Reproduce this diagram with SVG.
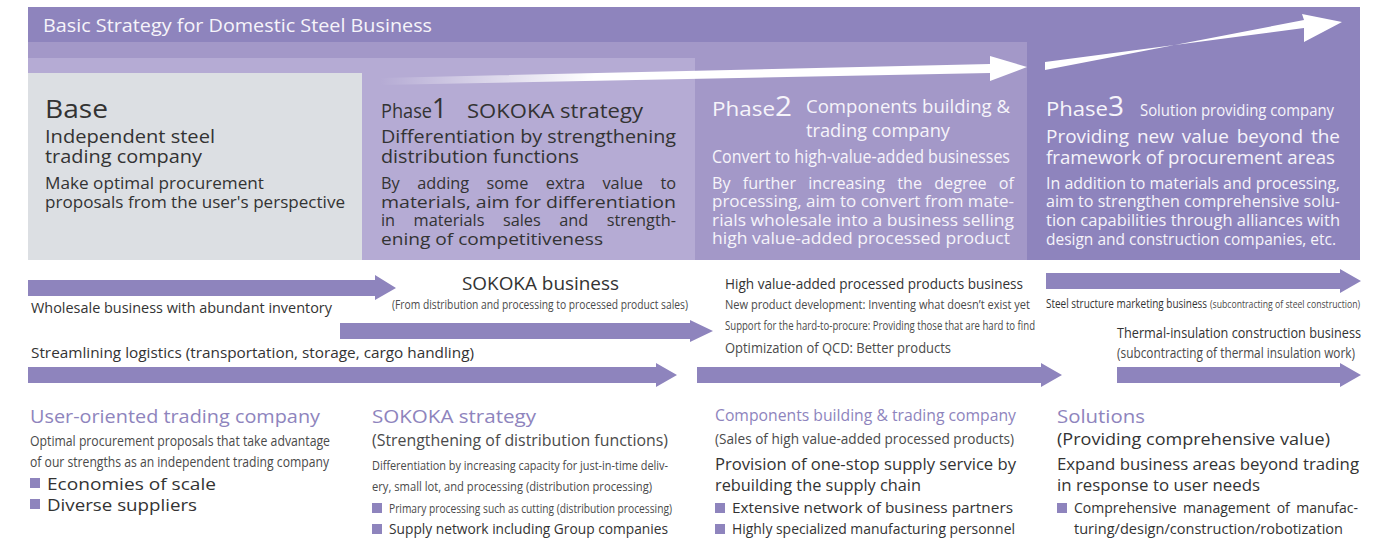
<svg xmlns="http://www.w3.org/2000/svg" width="1399" height="540" viewBox="0 0 1399 540">
<defs>
<style>
text{font-family:"Open Sans","Noto Sans","Liberation Sans",sans-serif;}
.dk{fill:#333333;}
.gy{fill:#4a4a4a;}
.wt{fill:#f6f4fa;}
.pu{fill:#8e84bd;}
.bar{fill:#8e84bd;}
.md{font-weight:500;}
</style>
<linearGradient id="fade1" x1="380" y1="0" x2="990" y2="0" gradientUnits="userSpaceOnUse">
<stop offset="0" stop-color="#ffffff" stop-opacity="0"/>
<stop offset="0.35" stop-color="#ffffff" stop-opacity="1"/>
<stop offset="1" stop-color="#ffffff" stop-opacity="1"/>
</linearGradient>
</defs>

<g id="background">
<rect x="28" y="7" width="1332" height="253" fill="#8e84bd"/>
<rect x="28" y="42" width="999" height="218" fill="#a398c8"/>
<rect x="28" y="58" width="667" height="202" fill="#b5abd4"/>
<rect x="28" y="73" width="334" height="187" fill="#dcdfe3"/>
<text x="43" y="32" font-size="18" class="wt" textLength="389" lengthAdjust="spacingAndGlyphs">Basic Strategy for Domestic Steel Business</text>
</g>

<g id="connectors">
<polygon points="380,85 990,73 990,81 1027,67 990,56 990,64 380,78" fill="url(#fade1)"/>
<polygon points="1045,62 1304,28 1304,42 1342,22 1302,14 1304,20 1045,70" fill="#ffffff"/>
<polygon class="bar" points="28,280 375,280 375,275 396,288 375,300 375,296 28,296"/>
<polygon class="bar" points="340,323 690,323 690,320 713,331 690,342 690,339 340,339"/>
<polygon class="bar" points="28,367 656,367 656,363 677,375 656,387 656,383 28,383"/>
<polygon class="bar" points="697,367 1041,367 1041,363 1062,375 1041,387 1041,383 697,383"/>
<polygon class="bar" points="1046,273 1340,273 1340,269 1361,281 1340,293 1340,289 1046,289"/>
<polygon class="bar" points="1117,367 1340,367 1340,363 1361,375 1340,387 1340,383 1117,383"/>
</g>

<g id="base">
<text x="45" y="118" font-size="26" class="dk" textLength="63" lengthAdjust="spacingAndGlyphs">Base</text>
<text x="45" y="143" font-size="17.5" class="dk md" textLength="170" lengthAdjust="spacingAndGlyphs">Independent steel</text>
<text x="45" y="163" font-size="17.5" class="dk md" textLength="157" lengthAdjust="spacingAndGlyphs">trading company</text>
<text x="45" y="189" font-size="16" class="dk" textLength="219" lengthAdjust="spacingAndGlyphs">Make optimal procurement</text>
<text x="45" y="208" font-size="16" class="dk" textLength="300" lengthAdjust="spacingAndGlyphs">proposals from the user's perspective</text>
</g>

<g id="phase1">
<text x="381" y="118" font-size="20" class="dk" textLength="51" lengthAdjust="spacingAndGlyphs">Phase</text>
<text x="432" y="118" font-size="27" class="dk" textLength="15" lengthAdjust="spacingAndGlyphs">1</text>
<text x="467" y="118" font-size="20" class="dk md" textLength="176" lengthAdjust="spacingAndGlyphs">SOKOKA strategy</text>
<text x="381" y="143" font-size="17.5" class="dk md" textLength="295" lengthAdjust="spacingAndGlyphs">Differentiation by strengthening</text>
<text x="381" y="163" font-size="17.5" class="dk md" textLength="198" lengthAdjust="spacingAndGlyphs">distribution functions</text>
<text x="381" y="189" font-size="16" class="dk" word-spacing="13" textLength="295" lengthAdjust="spacingAndGlyphs">By adding some extra value to</text>
<text x="381" y="208" font-size="16" class="dk" textLength="295" lengthAdjust="spacingAndGlyphs">materials, aim for differentiation</text>
<text x="381" y="226" font-size="16" class="dk" word-spacing="14" textLength="295" lengthAdjust="spacingAndGlyphs">in materials sales and strength-</text>
<text x="381" y="245" font-size="16" class="dk" textLength="222" lengthAdjust="spacingAndGlyphs">ening of competitiveness</text>
</g>

<g id="phase2">
<text x="712" y="116" font-size="20" class="wt" textLength="63" lengthAdjust="spacingAndGlyphs">Phase</text>
<text x="775" y="116" font-size="27" class="wt" textLength="17" lengthAdjust="spacingAndGlyphs">2</text>
<text x="806" y="113" font-size="18" class="wt" textLength="204" lengthAdjust="spacingAndGlyphs">Components building &amp;</text>
<text x="806" y="137" font-size="18" class="wt" textLength="144" lengthAdjust="spacingAndGlyphs">trading company</text>
<text x="712" y="163" font-size="18" class="wt" textLength="298" lengthAdjust="spacingAndGlyphs">Convert to high-value-added businesses</text>
<text x="712" y="189" font-size="16" class="wt" word-spacing="8" textLength="302" lengthAdjust="spacingAndGlyphs">By further increasing the degree of</text>
<text x="712" y="207" font-size="16" class="wt" textLength="302" lengthAdjust="spacingAndGlyphs">processing, aim to convert from mate-</text>
<text x="712" y="226" font-size="16" class="wt" textLength="302" lengthAdjust="spacingAndGlyphs">rials wholesale into a business selling</text>
<text x="712" y="244" font-size="16" class="wt" textLength="298" lengthAdjust="spacingAndGlyphs">high value-added processed product</text>
</g>

<g id="phase3">
<text x="1046" y="116" font-size="20" class="wt" textLength="62" lengthAdjust="spacingAndGlyphs">Phase</text>
<text x="1108" y="116" font-size="27" class="wt" textLength="16" lengthAdjust="spacingAndGlyphs">3</text>
<text x="1140" y="116" font-size="17" class="wt" textLength="194" lengthAdjust="spacingAndGlyphs">Solution providing company</text>
<text x="1046" y="143" font-size="19" class="wt md" word-spacing="3" textLength="294" lengthAdjust="spacingAndGlyphs">Providing new value beyond the</text>
<text x="1046" y="164" font-size="19" class="wt md" textLength="289" lengthAdjust="spacingAndGlyphs">framework of procurement areas</text>
<text x="1046" y="189" font-size="16" class="wt" textLength="294" lengthAdjust="spacingAndGlyphs">In addition to materials and processing,</text>
<text x="1046" y="207" font-size="16" class="wt" textLength="294" lengthAdjust="spacingAndGlyphs">aim to strengthen comprehensive solu-</text>
<text x="1046" y="226" font-size="16" class="wt" textLength="294" lengthAdjust="spacingAndGlyphs">tion capabilities  through alliances with</text>
<text x="1046" y="245" font-size="16" class="wt" textLength="290" lengthAdjust="spacingAndGlyphs">design and construction companies, etc.</text>
</g>

<g id="wholesale">
<text x="31" y="313" font-size="15" class="dk" textLength="301" lengthAdjust="spacingAndGlyphs">Wholesale business with abundant inventory</text>
</g>
<g id="sokoka-business">
<text x="462" y="290" font-size="18" class="dk" textLength="157" lengthAdjust="spacingAndGlyphs">SOKOKA business</text>
<text x="392" y="309" font-size="12" class="gy" textLength="296" lengthAdjust="spacingAndGlyphs">(From distribution and processing to processed product sales)</text>
</g>
<g id="logistics">
<text x="31" y="358" font-size="15" class="dk" textLength="443" lengthAdjust="spacingAndGlyphs">Streamlining logistics (transportation, storage, cargo handling)</text>
</g>
<g id="hva-business">
<text x="725" y="289" font-size="15" class="dk" textLength="298" lengthAdjust="spacingAndGlyphs">High value-added processed products business</text>
<text x="725" y="309" font-size="12.5" class="gy" textLength="305" lengthAdjust="spacingAndGlyphs">New product development: Inventing what doesn’t exist yet</text>
<text x="725" y="330" font-size="12" class="gy" textLength="310" lengthAdjust="spacingAndGlyphs">Support for the hard-to-procure: Providing those that are hard to find</text>
<text x="725" y="353" font-size="15" class="gy" textLength="226" lengthAdjust="spacingAndGlyphs">Optimization of QCD: Better products</text>
</g>
<g id="steel-structure">
<text x="1046" y="308" font-size="13" class="dk" textLength="161" lengthAdjust="spacingAndGlyphs">Steel structure marketing business</text>
<text x="1210" y="308" font-size="10.5" class="gy" textLength="150" lengthAdjust="spacingAndGlyphs">(subcontracting of steel construction)</text>
</g>
<g id="thermal">
<text x="1117" y="338" font-size="15" class="dk" textLength="244" lengthAdjust="spacingAndGlyphs">Thermal-insulation construction business</text>
<text x="1117" y="358" font-size="14" class="gy" textLength="238" lengthAdjust="spacingAndGlyphs">(subcontracting of thermal insulation work)</text>
</g>

<g id="col-user">
<text x="30" y="423" font-size="19" class="pu md" textLength="290" lengthAdjust="spacingAndGlyphs">User-oriented trading company</text>
<text x="30" y="446" font-size="14" class="gy" textLength="300" lengthAdjust="spacingAndGlyphs">Optimal procurement proposals that take advantage</text>
<text x="30" y="467" font-size="14" class="gy" textLength="299" lengthAdjust="spacingAndGlyphs">of our strengths as an independent trading company</text>
<rect x="30" y="478" width="10" height="10" class="pu"/>
<text x="47" y="490" font-size="17" class="dk" textLength="169" lengthAdjust="spacingAndGlyphs">Economies of scale</text>
<rect x="30" y="499" width="10" height="10" class="pu"/>
<text x="47" y="511" font-size="17" class="dk" textLength="150" lengthAdjust="spacingAndGlyphs">Diverse suppliers</text>
</g>

<g id="col-sokoka">
<text x="372" y="423" font-size="19" class="pu md" textLength="164" lengthAdjust="spacingAndGlyphs">SOKOKA strategy</text>
<text x="372" y="446" font-size="16" class="gy" textLength="296" lengthAdjust="spacingAndGlyphs">(Strengthening of distribution functions)</text>
<text x="372" y="470" font-size="13" class="gy" textLength="296" lengthAdjust="spacingAndGlyphs">Differentiation by increasing capacity for just-in-time deliv-</text>
<text x="372" y="491" font-size="13" class="gy" textLength="280" lengthAdjust="spacingAndGlyphs">ery, small lot, and processing (distribution processing)</text>
<rect x="372" y="503" width="10" height="10" class="pu"/>
<text x="389" y="513" font-size="13" class="gy" textLength="283" lengthAdjust="spacingAndGlyphs">Primary processing such as cutting (distribution processing)</text>
<rect x="372" y="524" width="10" height="10" class="pu"/>
<text x="389" y="534" font-size="15" class="dk" textLength="279" lengthAdjust="spacingAndGlyphs">Supply network including Group companies</text>
</g>

<g id="col-components">
<text x="715" y="421" font-size="17" class="pu" textLength="301" lengthAdjust="spacingAndGlyphs">Components building &amp; trading company</text>
<text x="715" y="444" font-size="14" class="gy" textLength="299" lengthAdjust="spacingAndGlyphs">(Sales of high value-added processed products)</text>
<text x="715" y="470" font-size="16" class="dk" textLength="301" lengthAdjust="spacingAndGlyphs">Provision of one-stop supply service by</text>
<text x="715" y="491" font-size="16" class="dk" textLength="206" lengthAdjust="spacingAndGlyphs">rebuilding the supply chain</text>
<rect x="715" y="503" width="10" height="10" class="pu"/>
<text x="732" y="513" font-size="15" class="dk" textLength="281" lengthAdjust="spacingAndGlyphs">Extensive network of business partners</text>
<rect x="715" y="524" width="10" height="10" class="pu"/>
<text x="732" y="534" font-size="15" class="dk" textLength="283" lengthAdjust="spacingAndGlyphs">Highly specialized manufacturing personnel</text>
</g>

<g id="col-solutions">
<text x="1057" y="423" font-size="19" class="pu md" textLength="88" lengthAdjust="spacingAndGlyphs">Solutions</text>
<text x="1057" y="445" font-size="16" class="dk" textLength="273" lengthAdjust="spacingAndGlyphs">(Providing comprehensive value)</text>
<text x="1057" y="470" font-size="16" class="dk" textLength="302" lengthAdjust="spacingAndGlyphs">Expand business areas beyond trading</text>
<text x="1057" y="491" font-size="16" class="dk" textLength="203" lengthAdjust="spacingAndGlyphs">in response to user needs</text>
<rect x="1057" y="503" width="10" height="10" class="pu"/>
<text x="1074" y="513" font-size="15" class="dk" word-spacing="3" textLength="284" lengthAdjust="spacingAndGlyphs">Comprehensive management of manufac-</text>
<text x="1074" y="534" font-size="15" class="dk" textLength="269" lengthAdjust="spacingAndGlyphs">turing/design/construction/robotization</text>
</g>
</svg>
